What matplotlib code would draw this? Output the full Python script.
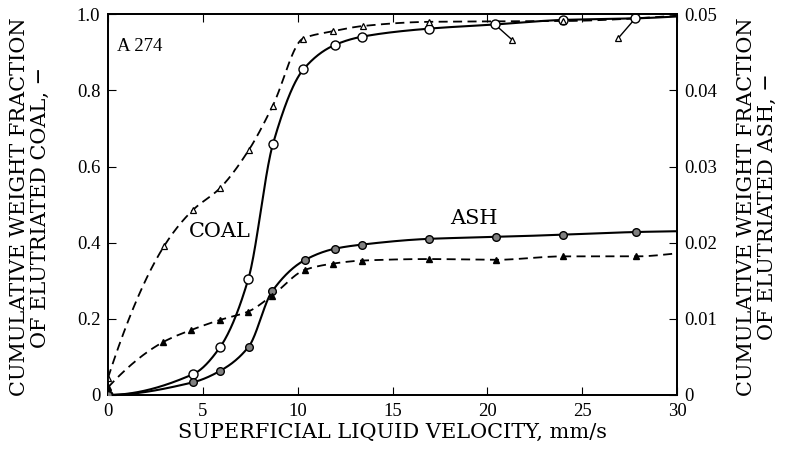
import numpy as np
import matplotlib
matplotlib.use("Agg")
import matplotlib.pyplot as plt

plt.rcParams['font.family'] = ['DejaVu Serif']

# ---- data (left axis: coal fraction, right axis: ash fraction) ----
coal_x = [0, 4.5, 5.9, 7.4, 8.7, 10.3, 11.95, 13.4, 16.9, 20.4, 24.0, 27.8]
coal_y = [0, 0.055, 0.125, 0.305, 0.66, 0.855, 0.919, 0.941, 0.962, 0.973, 0.985, 0.989]
coal_end = 0.994

coal2_x = [0, 2.97, 4.46, 5.9, 7.42, 8.68, 10.28, 11.86, 13.44, 16.93, 24.0]
coal2_y = [0.045, 0.392, 0.485, 0.543, 0.643, 0.759, 0.936, 0.955, 0.969, 0.980, 0.982]
coal2_end = 0.996

# displaced points (shown with arrows)
shift_from_x = [20.4, 27.8]
shift_from_y = [0.973, 0.989]
shift_to_x = [21.3, 26.9]
shift_to_y = [0.933, 0.937]

ash_x = [0, 4.46, 5.9, 7.42, 8.65, 10.4, 11.95, 13.4, 16.9, 20.44, 24.0, 27.86]
ash_y = [0, 0.00165, 0.00315, 0.00635, 0.0136, 0.01775, 0.0192, 0.01975, 0.0205, 0.02075, 0.02105, 0.0214]
ash_end = 0.0215

ash2_x = [0, 2.91, 4.4, 5.9, 7.39, 8.65, 10.4, 11.86, 13.4, 16.9, 20.44, 24.0, 27.86]
ash2_y = [0.001, 0.00695, 0.00855, 0.00985, 0.01095, 0.01305, 0.01645, 0.01725, 0.01765, 0.01785, 0.01775, 0.0182, 0.0182]
ash2_end = 0.0186

x_end = 30

x_ticks = [0, 5, 10, 15, 20, 25, 30]
left_ticks = [0, 0.2, 0.4, 0.6, 0.8, 1.0]
left_labels = ['0', '0.2', '0.4', '0.6', '0.8', '1.0']
right_ticks = [0, 0.01, 0.02, 0.03, 0.04, 0.05]
right_labels = ['0', '0.01', '0.02', '0.03', '0.04', '0.05']


def end_slope(h0, h1, d0, d1):
    m = ((2 * h0 + h1) * d0 - h0 * d1) / (h0 + h1)
    if np.sign(m) != np.sign(d0):
        m = 0.0
    elif np.sign(d0) != np.sign(d1) and abs(m) > abs(3 * d0):
        m = 3 * d0
    return m


def pchip(x, y, xs):
    x = np.asarray(x, float); y = np.asarray(y, float)
    h = np.diff(x); d = np.diff(y) / h
    n = len(x)
    m = np.zeros(n)
    for k in range(1, n - 1):
        if d[k - 1] * d[k] <= 0:
            m[k] = 0.0
        else:
            w1 = 2 * h[k] + h[k - 1]
            w2 = h[k] + 2 * h[k - 1]
            m[k] = (w1 + w2) / (w1 / d[k - 1] + w2 / d[k])
    m[0] = end_slope(h[0], h[1], d[0], d[1])
    m[-1] = end_slope(h[-1], h[-2], d[-1], d[-2])
    idx = np.clip(np.searchsorted(x, xs) - 1, 0, n - 2)
    t = (xs - x[idx]) / h[idx]
    h00 = 2 * t**3 - 3 * t**2 + 1
    h10 = t**3 - 2 * t**2 + t
    h01 = -2 * t**3 + 3 * t**2
    h11 = t**3 - t**2
    return h00 * y[idx] + h10 * h[idx] * m[idx] + h01 * y[idx + 1] + h11 * h[idx] * m[idx + 1]


def curve(xv, yv, yend):
    xx = list(xv) + [x_end]
    yy = list(yv) + [yend]
    xs = np.linspace(xx[0], xx[-1], 800)
    return xs, pchip(xx, yy, xs)


fig = plt.figure(figsize=(7.9, 4.58), dpi=100)
ax = fig.add_axes([0.1367, 0.1376, 0.7203, 0.8314])
ax2 = ax.twinx()

# coal curves
xs, ys = curve(coal_x, coal_y, coal_end)
ax.plot(xs, ys, color='black', lw=1.5, zorder=3)
ax.plot(coal_x, coal_y, 'o', ms=6.5, mfc='white', mec='black', mew=1.0, zorder=5)

xs, ys = curve(coal2_x, coal2_y, coal2_end)
ax.plot(xs, ys, color='black', lw=1.3, ls=(0, (5, 3)), zorder=3)
ax.plot(coal2_x, coal2_y, '^', ms=4.5, mfc='white', mec='black', mew=0.9, zorder=5)

for fx, fy, tx, ty in zip(shift_from_x, shift_from_y, shift_to_x, shift_to_y):
    ax.plot([fx, tx], [fy, ty], color='black', lw=1.0, zorder=4)
ax.plot(shift_to_x, shift_to_y, '^', ms=4.5, mfc='white', mec='black', mew=0.9, zorder=5)

# ash curves (right axis)
xs, ys = curve(ash_x, ash_y, ash_end)
ax2.plot(xs, ys, color='black', lw=1.5, zorder=3)
ax2.plot(ash_x, ash_y, 'o', ms=5.5, mfc='#808080', mec='black', mew=1.0, zorder=5)

xs, ys = curve(ash2_x, ash2_y, ash2_end)
ax2.plot(xs, ys, color='black', lw=1.3, ls=(0, (5, 3)), zorder=3)
ax2.plot(ash2_x, ash2_y, '^', ms=4.5, mfc='black', mec='black', zorder=5)

ax.set_xlim(0, 30)
ax.set_ylim(0, 1.0)
ax2.set_ylim(0, 0.05)

tick_font = {'family': 'Liberation Serif', 'size': 13.5}
ax.set_xticks(x_ticks)
ax.set_xticklabels([str(v) for v in x_ticks], fontdict=tick_font)
ax.set_yticks(left_ticks)
ax.set_yticklabels(left_labels, fontdict=tick_font)
ax2.set_yticks(right_ticks)
ax2.set_yticklabels(right_labels, fontdict=tick_font)

ax.tick_params(axis='x', direction='in', top=True, length=6, pad=6)
ax.tick_params(axis='y', direction='in', length=6, pad=5.5)
ax2.tick_params(axis='y', direction='in', length=6, pad=5.5)

for a in (ax, ax2):
    for s in a.spines.values():
        s.set_linewidth(1.3)

ax.text(0.47, 0.915, 'A 274', fontsize=13.5, family='Liberation Serif', va='center', ha='left')
ax.text(5.9, 0.43, 'COAL', fontsize=15, va='center', ha='center')
ax.text(19.3, 0.463, 'ASH', fontsize=15, va='center', ha='center')

ax.set_xlabel('SUPERFICIAL LIQUID VELOCITY, mm/s', fontsize=15, labelpad=2)
fig.text(30 / 790, 1 - 207 / 458, 'CUMULATIVE WEIGHT FRACTION\nOF ELUTRIATED COAL, \u2212',
         fontsize=15, rotation=90, ha='center', va='center', linespacing=1.15)
fig.text(757 / 790, 1 - 207 / 458, 'CUMULATIVE WEIGHT FRACTION\nOF ELUTRIATED ASH, \u2212',
         fontsize=15, rotation=90, ha='center', va='center', linespacing=1.15)

fig.savefig('out.png', dpi=100)
